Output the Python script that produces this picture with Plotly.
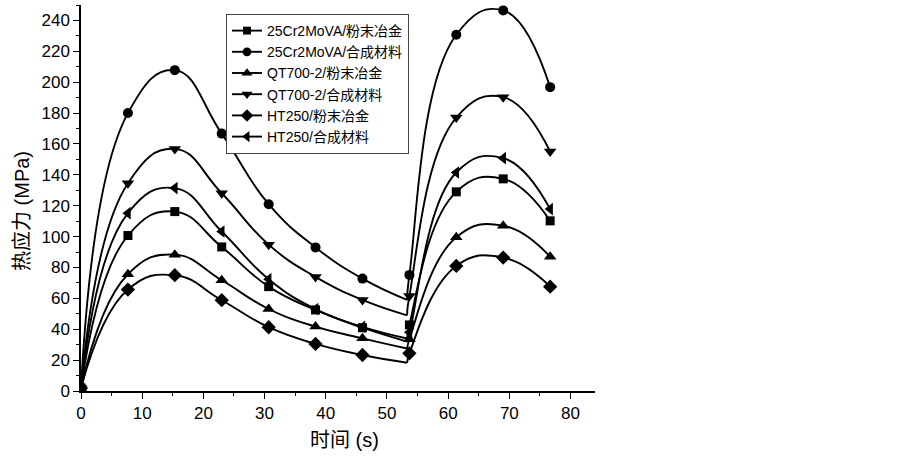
import plotly.graph_objects as go

# ---- data ----
TIME_PHASE1 = [0, 7.67, 15.33, 23, 30.67, 38.33, 46, 53.3]
TIME_PHASE2 = [53.3, 53.67, 61.33, 69, 76.67]

SERIES_NAMES = [
    "25Cr2MoVA/粉末冶金",
    "25Cr2MoVA/合成材料",
    "QT700-2/粉末冶金",
    "QT700-2/合成材料",
    "HT250/粉末冶金",
    "HT250/合成材料",
]
SYMBOLS = ["square", "circle", "triangle-up", "triangle-down", "diamond", "triangle-left"]

# phase 1 values (last value = end of heating stage, drawn without marker)
PHASE1 = [
    [2, 100.7, 116.2, 93.3, 67.6, 52.5, 41.0, 32.0],
    [2, 180.0, 207.8, 166.7, 121.0, 93.0, 72.8, 59.0],
    [2, 75.6, 88.3, 71.7, 53.1, 41.7, 34.1, 27.5],
    [2, 134.6, 156.8, 128.1, 94.8, 73.9, 59.0, 49.0],
    [2, 65.7, 75.0, 58.8, 41.3, 30.5, 23.3, 18.3],
    [2, 115.2, 131.4, 103.3, 72.4, 53.0, 41.5, 34.0],
]
# phase 2 values (marker points)
PHASE2 = [
    [42.8, 129.0, 137.4, 110.2],
    [75.2, 230.7, 246.5, 196.8],
    [33.5, 99.6, 107.1, 87.0],
    [61.6, 177.1, 190.3, 155.1],
    [24.4, 81.0, 86.4, 67.6],
    [38.0, 141.5, 150.8, 117.8],
]

X_TICKS = [0, 10, 20, 30, 40, 50, 60, 70, 80]
Y_TICKS = list(range(0, 241, 20))

FONT = "Liberation Sans, Arial, Noto Sans CJK SC, sans-serif"
MSIZE = {"square": 9, "circle": 10, "triangle-up": 11, "triangle-down": 11,
         "diamond": 11, "triangle-left": 11}
SMOOTH = 1.3

fig = go.Figure()
for name, sym, p1, p2 in zip(SERIES_NAMES, SYMBOLS, PHASE1, PHASE2):
    s = MSIZE[sym]
    sizes1 = [s] * (len(p1) - 1) + [0]
    fig.add_trace(go.Scatter(
        x=TIME_PHASE1, y=p1, name=name, mode="lines+markers",
        line=dict(color="black", width=1.9, shape="spline", smoothing=SMOOTH),
        marker=dict(symbol=sym, size=sizes1, color="black", opacity=1, line=dict(width=0)),
        legendgroup=name, hoverinfo="skip",
    ))
    y2 = [p1[-1]] + p2
    sizes2 = [0] + [s] * len(p2)
    fig.add_trace(go.Scatter(
        x=TIME_PHASE2, y=y2, name=name, mode="lines+markers",
        line=dict(color="black", width=1.9, shape="spline", smoothing=SMOOTH),
        marker=dict(symbol=sym, size=sizes2, color="black", opacity=1, line=dict(width=0)),
        legendgroup=name, showlegend=False, hoverinfo="skip",
    ))

axis_common = dict(
    showline=True, linecolor="black", linewidth=1.5,
    ticks="outside", ticklen=6, tickwidth=1.3, tickcolor="black",
    showgrid=False, zeroline=False, automargin=False,
    tickfont=dict(size=17, color="black", family=FONT),
    minor=dict(ticks="outside", ticklen=3, tickwidth=1.2, tickcolor="black", showgrid=False),
)

fig.update_xaxes(range=[0, 84], tickvals=X_TICKS, **axis_common)
fig.update_xaxes(minor_dtick=5, minor_tick0=0)
fig.update_yaxes(range=[0, 250], tickvals=Y_TICKS, **axis_common)
fig.update_yaxes(minor_dtick=10, minor_tick0=0)

PLOT_L, PLOT_R, PLOT_T, PLOT_B = 81, 595, 5, 391
def px_to_paper(px, py):
    return (px - PLOT_L) / (PLOT_R - PLOT_L), (PLOT_B - py) / (PLOT_B - PLOT_T)

xt_x, xt_y = px_to_paper(344, 440)
yt_x, yt_y = px_to_paper(22, 211)

fig.update_layout(
    width=903, height=459,
    margin=dict(l=PLOT_L, r=903 - PLOT_R, t=PLOT_T, b=459 - PLOT_B),
    paper_bgcolor="white", plot_bgcolor="white",
    font=dict(family=FONT, color="black"),
    hovermode=False,
    legend=dict(
        x=(226 - PLOT_L) / (PLOT_R - PLOT_L), y=(PLOT_B - 14) / (PLOT_B - PLOT_T),
        xanchor="left", yanchor="top",
        bordercolor="#444", borderwidth=1, bgcolor="white",
        font=dict(size=14, color="black", family=FONT),
        tracegroupgap=0, itemwidth=30,
    ),
    annotations=[
        dict(text="时间 (s)", x=xt_x, y=xt_y, xref="paper", yref="paper",
             showarrow=False, font=dict(size=20, color="black", family=FONT),
             xanchor="center", yanchor="middle"),
        dict(text="热应力 (MPa)", x=yt_x, y=yt_y, xref="paper", yref="paper",
             showarrow=False, textangle=-90, font=dict(size=20, color="black", family=FONT),
             xanchor="center", yanchor="middle"),
    ],
)

fig.write_html("out.html", config={"displayModeBar": False},
               post_script="document.body.style.margin='0';")
